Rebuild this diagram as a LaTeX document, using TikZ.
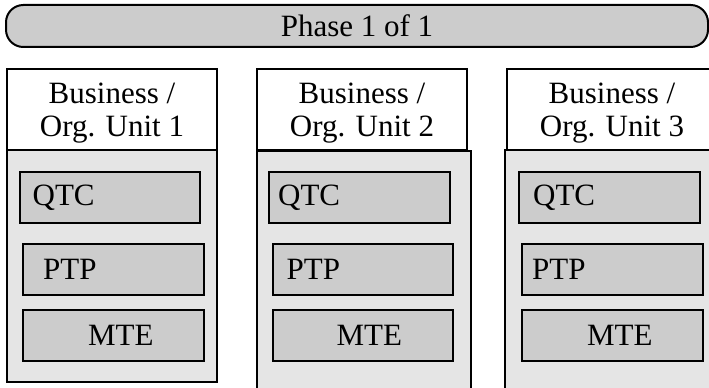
\documentclass[tikz,border=0pt]{standalone}
\usepackage{fontspec}
\setmainfont{Liberation Serif}
\usetikzlibrary{positioning}

\begin{document}
\begin{tikzpicture}[
			x=0.75pt, y=-0.75pt,
			font=\fontsize{23.25}{24.75}\selectfont,
			line width=1.5pt,
			phasebar/.style={rectangle,draw,fill=black!20,rounded corners=13pt,minimum width=526.5pt,minimum height=31.5pt,inner sep=0pt},
			unithead/.style={rectangle,draw,fill=white,minimum width=157.5pt,minimum height=60.75pt,inner sep=0pt},
			headtext/.style={align=center,inner sep=0pt,yshift=-3pt},
			unitbody/.style={rectangle,draw,fill=black!10,inner sep=0pt},
			procbox/.style={rectangle,draw,fill=black!20,minimum width=135.5pt,minimum height=38.25pt,inner sep=0pt},
			proclabel/.style={inner sep=0pt,anchor=west},
			]
			\useasboundingbox (0,0) rectangle (709,388);
			\clip (0,0) rectangle (709,388);
			\node [phasebar] (phase) at (357,26) {Phase 1 of 1};
			% unit bodies first, headers on top
			\node [unitbody,minimum width=157.5pt,minimum height=174pt] (body1) at (112,266) {};
			\node [unitbody,minimum width=160.5pt,minimum height=186.75pt] (body2) at (364,275.5) {};
			\node [unitbody,minimum width=161.25pt,minimum height=186.75pt] (body3) at (612.5,275) {};
			\node [unithead] (head1) at (112,109.5) {};
			\node [unithead] (head2) at (362,109.5) {};
			\node [unithead] (head3) at (612,109.5) {};
			\node [headtext] (headtxt1) at (head1) {Business /\\Org. Unit 1};
			\node [headtext] (headtxt2) at (head2) {Business /\\Org. Unit 2};
			\node [headtext] (headtxt3) at (head3) {Business /\\Org. Unit 3};
			% unit 1
			\node [procbox] (qtc1) at (110,197.5) {};
			\node [procbox] (ptp1) at (113.5,269.5) {};
			\node [procbox] (mte1) at (113.5,335) {};
			\node [proclabel,right=9.75pt of qtc1.west] (qtclbl1) {QTC};
			\node [proclabel,right=15pt of ptp1.west] (ptplbl1) {PTP};
			\node [proclabel,right=48.75pt of mte1.west] (mtelbl1) {MTE};
			% unit 2
			\node [procbox] (qtc2) at (359.5,197.5) {};
			\node [procbox] (ptp2) at (363,269.5) {};
			\node [procbox] (mte2) at (363,335) {};
			\node [proclabel,right=6.75pt of qtc2.west] (qtclbl2) {QTC};
			\node [proclabel,right=10.5pt of ptp2.west] (ptplbl2) {PTP};
			\node [proclabel,right=48pt of mte2.west] (mtelbl2) {MTE};
			% unit 3
			\node [procbox] (qtc3) at (609.5,197.5) {};
			\node [procbox] (ptp3) at (612.5,269.5) {};
			\node [procbox] (mte3) at (612.5,335) {};
			\node [proclabel,right=10.5pt of qtc3.west] (qtclbl3) {QTC};
			\node [proclabel,right=7.5pt of ptp3.west] (ptplbl3) {PTP};
			\node [proclabel,right=48.75pt of mte3.west] (mtelbl3) {MTE};
		\end{tikzpicture}
\end{document}
